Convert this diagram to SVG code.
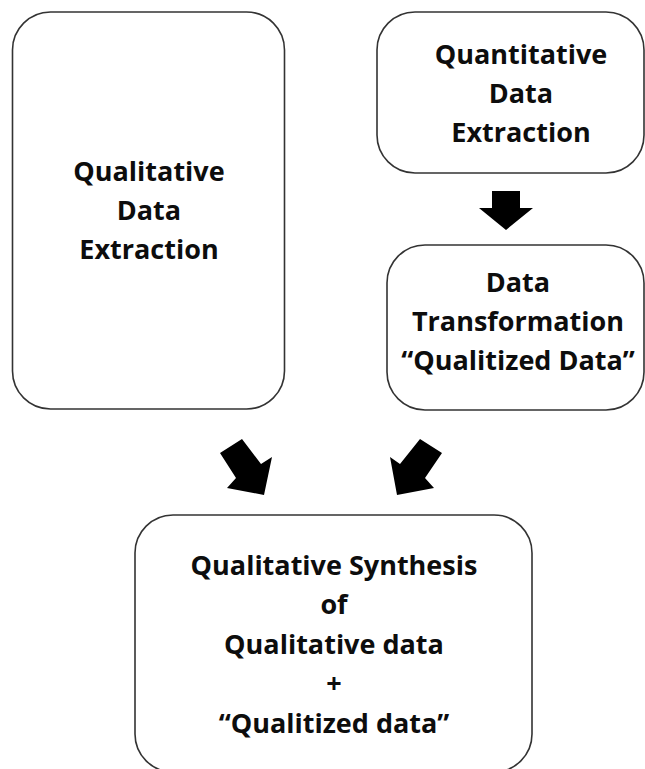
<svg xmlns="http://www.w3.org/2000/svg" width="645" height="769" viewBox="0 0 645 769">
  <style>
    .box { fill: #ffffff; stroke: #333333; stroke-width: 1.6; }
    .lbl { font-family: "Open Sans", "Noto Sans", "Liberation Sans", sans-serif; font-weight: 700; font-size: 27px; fill: #0d0d0d; text-anchor: middle; }
    .arrow { fill: #000000; stroke: none; }
  </style>
  <rect x="0" y="0" width="645" height="769" fill="#ffffff"/>
  <g id="qual-extraction">
    <rect class="box" x="12.5" y="12" width="272" height="397" rx="38" ry="38"/>
    <text class="lbl" x="149" y="181">Qualitative</text>
    <text class="lbl" x="149" y="220">Data</text>
    <text class="lbl" x="149" y="259">Extraction</text>
  </g>
  <g id="quant-extraction">
    <rect class="box" x="377" y="12" width="267" height="161" rx="38" ry="38"/>
    <text class="lbl" x="521" y="64">Quantitative</text>
    <text class="lbl" x="521" y="103">Data</text>
    <text class="lbl" x="521" y="142">Extraction</text>
  </g>
  <g id="data-transformation">
    <rect class="box" x="387" y="245" width="257" height="165" rx="38" ry="38"/>
    <text class="lbl" x="518" y="292">Data</text>
    <text class="lbl" x="518" y="331">Transformation</text>
    <text class="lbl" x="518" y="370">“Qualitized Data”</text>
  </g>
  <g id="synthesis">
    <rect class="box" x="135" y="515" width="397" height="257" rx="38" ry="38"/>
    <text class="lbl" x="334" y="575">Qualitative Synthesis</text>
    <text class="lbl" x="334" y="614">of</text>
    <text class="lbl" x="334" y="654">Qualitative data</text>
    <text class="lbl" x="334" y="693">+</text>
    <text class="lbl" x="334" y="733">“Qualitized data”</text>
  </g>
  <g id="connectors">
    <polygon class="arrow" points="492,191 520,191 520,208 533,208 506,230 479,208 492,208"/>
    <polygon class="arrow" points="242,439 220,453 236,478 227,488 264,495 272,457 261,464"/>
    <polygon class="arrow" points="420,439 442,453 425,478 434,488 397,495 390,457 400,464"/>
  </g>
</svg>
